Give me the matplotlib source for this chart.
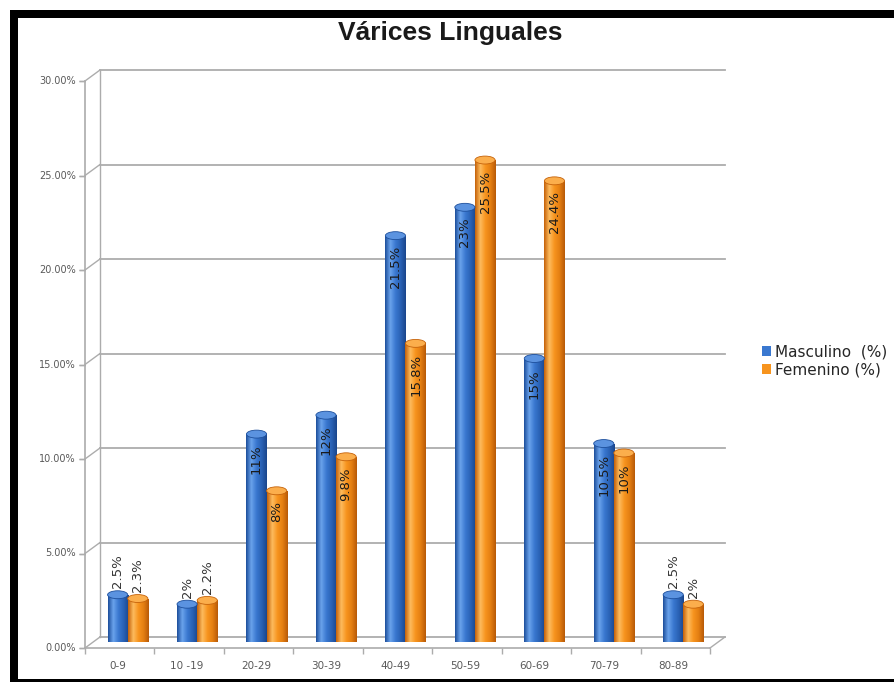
import numpy as np
import matplotlib
matplotlib.use("Agg")
import matplotlib.pyplot as plt
from matplotlib.patches import Ellipse, Rectangle
from matplotlib.lines import Line2D
from matplotlib.transforms import ScaledTranslation
from matplotlib.colors import LinearSegmentedColormap

# --- data ---
categories = ["0-9", "10 -19", "20-29", "30-39", "40-49", "50-59", "60-69", "70-79", "80-89"]
masculino = [2.5, 2, 11, 12, 21.5, 23, 15, 10.5, 2.5]
femenino = [2.3, 2.2, 8, 9.8, 15.8, 25.5, 24.4, 10, 2]
series_names = ["Masculino  (%)", "Femenino (%)"]
yticks = [0, 5, 10, 15, 20, 25, 30]

W, H = 895, 682
fig = plt.figure(figsize=(W / 100, H / 100), dpi=100)
fig.patch.set_facecolor("white")

def fx(px):
    return px / W

def fy(py):
    return 1 - py / H

# axes = middle depth plane of the pseudo 3d chart
ax = fig.add_axes([fx(93), fy(642), fx(718) - fx(93), fy(75) - fy(642)])
ax.set_xlim(-0.5, 8.5)
ax.set_ylim(0, 30)
ax.axis("off")

back = ax.transData + ScaledTranslation(0.07, 0.05, fig.dpi_scale_trans)
front = ax.transData + ScaledTranslation(-0.08, -0.06, fig.dpi_scale_trans)
grid_c = "#acacac"

# back wall gridlines
for y in yticks:
    ax.plot([-0.5, 8.5], [y, y], color=grid_c, lw=1.3, transform=back, clip_on=False, zorder=1)

def connect(x, y, color=grid_c, lw=1.0):
    p = ax.transData.transform((x, y))
    b = (p[0] + 7, p[1] + 5)
    f = (p[0] - 8, p[1] - 6)
    fig.add_artist(Line2D([b[0] / W, f[0] / W], [b[1] / H, f[1] / H],
                          color=color, lw=lw, transform=fig.transFigure, zorder=1))

fig.canvas.draw()
for y in yticks:
    connect(-0.5, y)
connect(8.5, 0)

# left wall back edge and front axis
ax.plot([-0.5, -0.5], [0, 30], color=grid_c, lw=1.0, transform=back, clip_on=False, zorder=1)
ax.plot([-0.5, -0.5], [0, 30], color=grid_c, lw=1.2, transform=front, clip_on=False, zorder=1)
ax.plot([-0.5, 8.5], [0, 0], color=grid_c, lw=1.2, transform=front, clip_on=False, zorder=3)

tick_lbl = ax.transData + ScaledTranslation(-0.17, -0.06, fig.dpi_scale_trans)
for y in yticks:
    ax.plot([-0.5, -0.5], [y, y], marker=0, markersize=4, color=grid_c, transform=front, clip_on=False)
    ax.text(-0.5, y, f"{y:.2f}%", transform=tick_lbl, ha="right", va="center",
            fontsize=7, color="#595959", clip_on=False)

for k in range(len(categories) + 1):
    ax.plot([k - 0.5], [0], marker=3, markersize=4, color=grid_c, transform=front, clip_on=False)

xlbl = ax.transData + ScaledTranslation(-0.1, -0.24, fig.dpi_scale_trans)
for i, c in enumerate(categories):
    ax.text(i, 0, c, transform=xlbl, ha="center", va="center", fontsize=7.5,
            color="#595959", clip_on=False)

# cylinders
blue = ["#1d4f9c", "#6aa3ec", "#3a78d0", "#2a62b5", "#1a468c"]
orange = ["#c5620a", "#fdbb5e", "#f7941e", "#e47f12", "#b85a08"]
cmaps = [LinearSegmentedColormap.from_list("b", blue),
         LinearSegmentedColormap.from_list("o", orange)]
caps = ["#5b93e0", "#fbae4c"]
faces = ["#3a78d0", "#f7941e"]
width = 0.29
grad = np.linspace(0, 1, 60).reshape(1, -1)

handles = []
for s, vals in enumerate([masculino, femenino]):
    offs = -width / 2 if s == 0 else width / 2
    xs = np.arange(len(categories)) + offs
    bars = ax.bar(xs, vals, width=width, color=faces[s], edgecolor="none", zorder=4,
                  label=series_names[s])
    handles.append(bars)
    for x, v, b in zip(xs, vals, bars):
        im = ax.imshow(grad, cmap=cmaps[s], extent=(x - width / 2, x + width / 2, 0, v),
                       aspect="auto", zorder=5, interpolation="bilinear")
        im.set_clip_path(b)
        ax.add_patch(Ellipse((x, v), width, 0.42, facecolor=caps[s],
                             edgecolor=blue[0] if s == 0 else orange[0], lw=0.6, zorder=6))
        txt = f"{v:g}%"
        if v < 5:
            ax.text(x, v + 0.35, txt, rotation=90, ha="center", va="bottom",
                    fontsize=9.5, color="#333333", zorder=7)
        else:
            ax.text(x, v - 0.55, txt, rotation=90, ha="center", va="top",
                    fontsize=9.5, color="#1a1a1a", zorder=7)

ax.set_xlim(-0.5, 8.5)
ax.set_ylim(0, 30)

fig.legend(handles=handles, labels=series_names, loc="center left",
           bbox_to_anchor=(fx(748), fy(361)), frameon=False, fontsize=11,
           handlelength=0.6, handleheight=0.6, handletextpad=0.3, labelspacing=0.2,
           labelcolor="#262626")

fig.text(fx(450), fy(33), "Várices Linguales", ha="center", va="center",
         fontsize=19, fontweight="bold", family="Liberation Sans", color="#1a1a1a")

# black frame of the screenshot
for (x0, y0, x1, y1) in [(10, 10, 895, 18), (10, 10, 18, 682), (10, 679, 895, 682)]:
    fig.add_artist(Rectangle((fx(x0), fy(y1)), fx(x1) - fx(x0), fy(y0) - fy(y1),
                             transform=fig.transFigure, facecolor="black", edgecolor="none"))

fig.savefig("out.png", dpi=100)
